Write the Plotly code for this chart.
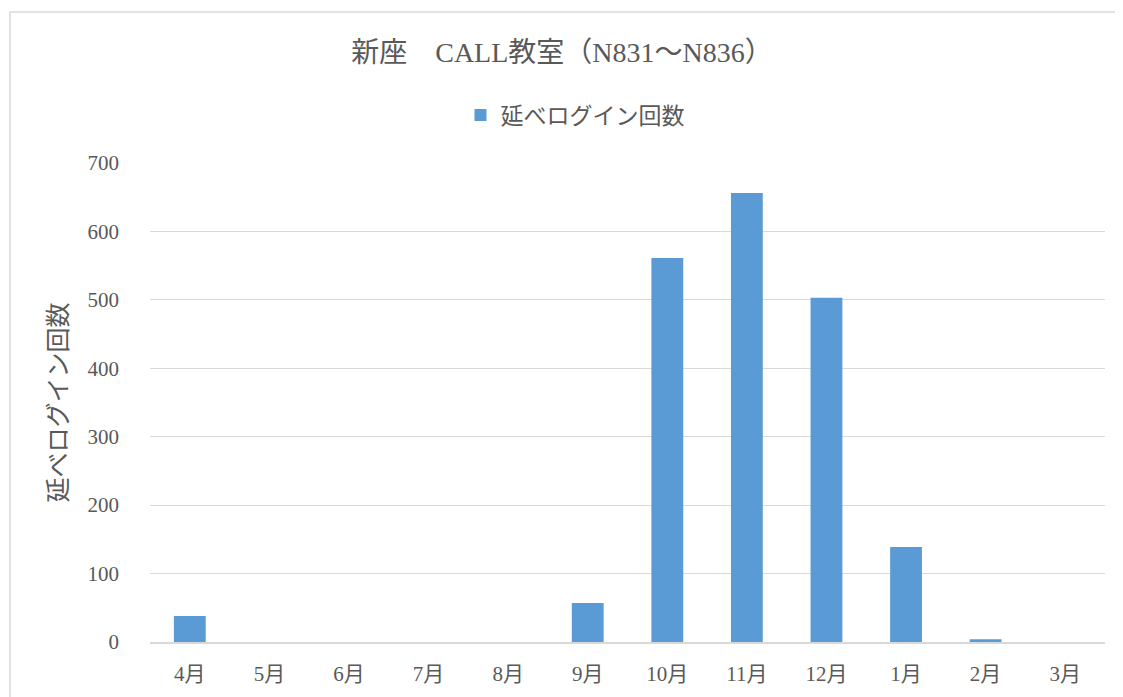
import plotly.graph_objects as go

months = ["4月", "5月", "6月", "7月", "8月", "9月", "10月", "11月", "12月", "1月", "2月", "3月"]
logins = [38, 0, 0, 0, 0, 57, 561, 656, 503, 139, 4, 0]
series_name = "延べログイン回数"
title_text = "新座　CALL教室（N831～N836）"
y_ticks = [0, 100, 200, 300, 400, 500, 600, 700]

FONT = "Liberation Serif, Noto Sans CJK JP, serif"
OFF = 8  # page body margin
W, H = 1123 - OFF, 697 - OFF
L = 150 - OFF
T = 163 - OFF
R = W - (1105 - OFF)
B = H - (642 - OFF)

fig = go.Figure()
fig.add_trace(go.Bar(x=months, y=logins, name=series_name, marker_color="#5b9bd5",
                     marker_line_width=0, showlegend=True))

pw = W - L - R
ph = H - T - B
def px_x(v):
    return (v - OFF - L) / pw
def px_y(v):
    return (H - B - (v - OFF)) / ph

fig.update_layout(
    width=W, height=H,
    margin=dict(l=L, r=R, t=T, b=B, pad=0),
    paper_bgcolor="white", plot_bgcolor="white",
    font=dict(family=FONT, color="#595959", size=22),
    title=dict(text=title_text, x=(562 - OFF) / W, xref="container", xanchor="center",
               y=1 - (52 - OFF) / H, yref="container", yanchor="middle",
               font=dict(size=28, color="#595959", family=FONT)),
    showlegend=True,
    legend=dict(orientation="h", x=(575 - OFF) / W, xref="container", xanchor="center",
                y=1 - (115 - OFF) / H, yref="container", yanchor="middle",
                font=dict(size=23, color="#595959", family=FONT),
                itemwidth=30),
    bargap=0.6,
    xaxis=dict(showgrid=False, showline=True, linecolor="#d9d9d9", linewidth=1.5,
               ticks="", ticklabelstandoff=12,
               tickfont=dict(size=21, color="#595959"), fixedrange=True),
    yaxis=dict(range=[0, 700], tickvals=y_ticks, showgrid=True, gridcolor="#d9d9d9",
               gridwidth=1.2, zeroline=False, showline=False, ticks="",
               ticklabelstandoff=30,
               tickfont=dict(size=21, color="#595959"),
               title=dict(text=series_name, font=dict(size=25, color="#595959"), standoff=12)),
    shapes=[
        dict(type="rect", xref="paper", yref="paper",
             x0=px_x(10), x1=px_x(1121), y0=px_y(720), y1=px_y(12),
             line=dict(color="#d9d9d9", width=1.5), fillcolor="rgba(0,0,0,0)", layer="below"),
    ],
)

fig.write_html("out.html")
